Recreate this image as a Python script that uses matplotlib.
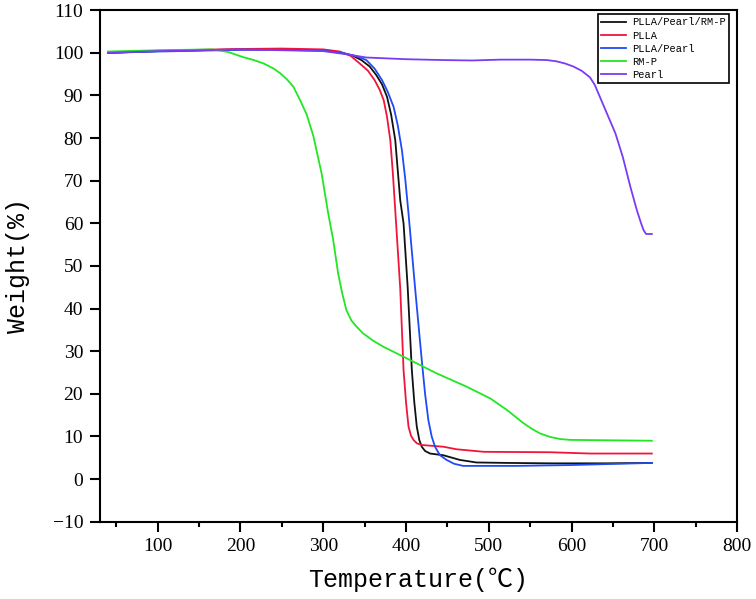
import matplotlib
matplotlib.use("Agg")
import matplotlib.pyplot as plt
from matplotlib.ticker import MultipleLocator

# PLLA/Pearl/RM-P
T_blend = [40, 100, 200, 250, 300, 320, 335, 346, 356, 364, 371, 377, 382, 387, 393, 397, 402, 407, 410, 413, 416, 419, 423, 429, 445, 465, 485, 520, 574, 640, 697]
W_blend = [100.0, 100.4, 100.8, 100.8, 100.6, 100.1, 99.4, 98.3, 96.8, 94.8, 92.6, 89.7, 85.5, 79.5, 65.4, 60.0, 45.0, 25.6, 18.0, 12.3, 9.2, 7.6, 6.6, 6.0, 5.6, 4.5, 3.9, 3.8, 3.7, 3.7, 3.8]

# PLLA
T_plla = [40, 100, 200, 250, 300, 320, 333, 344, 354, 362, 368, 373, 377, 381, 384, 387, 393, 397, 400, 403, 406, 409, 413, 419, 445, 461, 494, 574, 622, 697]
W_plla = [100.0, 100.5, 100.9, 101.0, 100.8, 100.3, 99.3, 97.5, 95.8, 93.6, 91.4, 88.9, 85.0, 79.5, 72.0, 63.0, 44.7, 25.6, 18.0, 12.3, 10.2, 9.2, 8.4, 8.0, 7.6, 7.0, 6.4, 6.3, 6.0, 6.0]

# PLLA/Pearl
T_pp = [40, 100, 200, 250, 300, 325, 340, 352, 362, 371, 378, 385, 390, 395, 399, 403, 411, 419, 423, 427, 431, 435, 441, 449, 458, 469, 534, 600, 697]
W_pp = [100.0, 100.3, 100.7, 100.7, 100.5, 99.9, 99.2, 98.3, 96.3, 93.6, 90.8, 87.3, 83.0, 77.2, 70.5, 62.3, 44.7, 27.9, 20.0, 13.8, 10.0, 7.6, 5.6, 4.5, 3.6, 3.1, 3.1, 3.3, 3.8]

# RM-P
T_rmp = [40, 100, 165, 185, 203, 216, 228, 240, 248, 256, 264, 272, 280, 288, 298, 306, 312, 318, 323, 328, 334, 340, 348, 360, 373, 397, 437, 473, 502, 522, 542, 552, 562, 574, 586, 598, 697]
W_rmp = [100.3, 100.6, 100.8, 100.2, 99.0, 98.3, 97.5, 96.3, 95.2, 93.8, 92.0, 88.9, 85.5, 80.5, 71.7, 62.3, 56.1, 48.2, 43.5, 39.6, 37.2, 35.8, 34.2, 32.5, 31.0, 28.7, 24.8, 21.7, 18.9, 16.2, 13.1, 11.8, 10.7, 9.9, 9.4, 9.2, 9.0]

# Pearl
T_pearl = [40, 100, 200, 300, 330, 352, 400, 445, 480, 514, 550, 570, 582, 592, 602, 612, 622, 628, 635, 644, 653, 662, 671, 679, 684, 687, 690, 697]
W_pearl = [100.0, 100.4, 100.8, 100.4, 99.6, 98.9, 98.5, 98.3, 98.2, 98.4, 98.4, 98.3, 98.0, 97.5, 96.8, 95.8, 94.3, 92.5, 89.3, 85.2, 81.1, 75.5, 68.6, 63.0, 60.0, 58.4, 57.5, 57.5]

series = [
    ("PLLA/Pearl/RM-P", T_blend, W_blend, "#111111"),
    ("PLLA", T_plla, W_plla, "#f2143a"),
    ("PLLA/Pearl", T_pp, W_pp, "#1f4bf5"),
    ("RM-P", T_rmp, W_rmp, "#22e622"),
    ("Pearl", T_pearl, W_pearl, "#7a3cf2"),
]

mono = ["Liberation Mono", "Noto Sans CJK SC"]

fig = plt.figure(figsize=(7.56, 5.99), dpi=100)
ax = fig.add_axes([0.132, 0.129, 0.843, 0.854])

for name, t, w, c in series:
    ax.plot(t, w, color=c, lw=1.3, label=name)

ax.set_xlim(30, 800)
ax.set_ylim(-10, 110)
ax.xaxis.set_major_locator(MultipleLocator(100))
ax.xaxis.set_minor_locator(MultipleLocator(50))
ax.yaxis.set_major_locator(MultipleLocator(10))

for s in ax.spines.values():
    s.set_linewidth(1.5)

ax.tick_params(which="major", direction="out", length=7, width=1.5, labelsize=14, pad=5)
ax.tick_params(which="minor", direction="out", length=3.5, width=1.5)
for lab in ax.get_xticklabels() + ax.get_yticklabels():
    lab.set_family("Liberation Serif")

ax.set_xlabel("Temperature(℃)", family=mono, fontsize=18, labelpad=9)
ax.set_ylabel("Weight(%)", family=mono, fontsize=18, labelpad=16)

leg = ax.legend(loc="upper right", bbox_to_anchor=(0.987, 0.992), borderaxespad=0,
                prop={"family": mono, "size": 7.5}, frameon=True, fancybox=False,
                framealpha=1, edgecolor="black", handlelength=2.4, handletextpad=0.6,
                labelspacing=0.3, borderpad=0.3)
leg.get_frame().set_linewidth(1.2)

fig.savefig("out.png", dpi=100)
